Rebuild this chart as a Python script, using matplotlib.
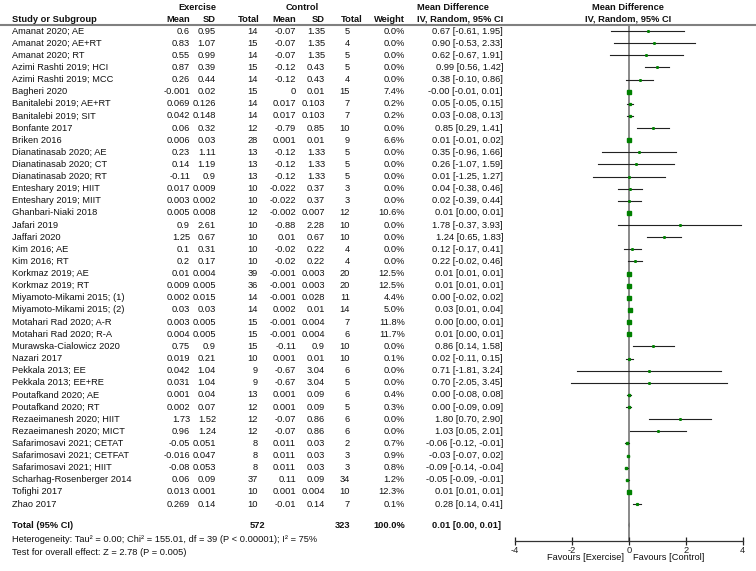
import matplotlib
matplotlib.use("Agg")
import matplotlib.pyplot as plt

plt.rcParams['font.family'] = ['Liberation Sans', 'DejaVu Sans']
FS = 6.7

studies = ["Amanat 2020; AE", "Amanat 2020; AE+RT", "Amanat 2020; RT",
           "Azimi Rashti 2019; HCI", "Azimi Rashti 2019; MCC", "Bagheri 2020",
           "Banitalebi 2019; AE+RT", "Banitalebi 2019; SIT", "Bonfante 2017",
           "Briken 2016", "Dianatinasab 2020; AE", "Dianatinasab 2020; CT",
           "Dianatinasab 2020; RT", "Enteshary 2019; HIIT", "Enteshary 2019; MIIT",
           "Ghanbari-Niaki 2018", "Jafari 2019", "Jaffari 2020", "Kim 2016; AE",
           "Kim 2016; RT", "Korkmaz 2019; AE", "Korkmaz 2019; RT",
           "Miyamoto-Mikami 2015; (1)", "Miyamoto-Mikami 2015; (2)",
           "Motahari Rad 2020; A-R", "Motahari Rad 2020; R-A",
           "Murawska-Cialowicz 2020", "Nazari 2017", "Pekkala 2013; EE",
           "Pekkala 2013; EE+RE", "Poutafkand 2020; AE", "Poutafkand 2020; RT",
           "Rezaeimanesh 2020; HIIT", "Rezaeimanesh 2020; MICT",
           "Safarimosavi 2021; CETAT", "Safarimosavi 2021; CETFAT",
           "Safarimosavi 2021; HIIT", "Scharhag-Rosenberger 2014",
           "Tofighi 2017", "Zhao 2017"]

ex_mean = [0.6, 0.83, 0.55, 0.87, 0.26, -0.001, 0.069, 0.042, 0.06, 0.006,
           0.23, 0.14, -0.11, 0.017, 0.003, 0.005, 0.9, 1.25, 0.1, 0.2,
           0.01, 0.009, 0.002, 0.03, 0.003, 0.004, 0.75, 0.019, 0.042, 0.031,
           0.001, 0.002, 1.73, 0.96, -0.05, -0.016, -0.08, 0.06, 0.013, 0.269]
ex_sd = [0.95, 1.07, 0.99, 0.39, 0.44, 0.02, 0.126, 0.148, 0.32, 0.03,
         1.11, 1.19, 0.9, 0.009, 0.002, 0.008, 2.61, 0.67, 0.31, 0.17,
         0.004, 0.005, 0.015, 0.03, 0.005, 0.005, 0.9, 0.21, 1.04, 1.04,
         0.04, 0.07, 1.52, 1.24, 0.051, 0.047, 0.053, 0.09, 0.001, 0.14]
ex_n = [14, 15, 14, 15, 14, 15, 14, 14, 12, 28, 13, 13, 13, 10, 10, 12, 10, 10,
        10, 10, 39, 36, 14, 14, 15, 15, 15, 10, 9, 9, 13, 12, 12, 12, 8, 8, 8,
        37, 10, 10]
ct_mean = [-0.07, -0.07, -0.07, -0.12, -0.12, 0, 0.017, 0.017, -0.79, 0.001,
           -0.12, -0.12, -0.12, -0.022, -0.022, -0.002, -0.88, 0.01, -0.02, -0.02,
           -0.001, -0.001, -0.001, 0.002, -0.001, -0.001, -0.11, 0.001, -0.67, -0.67,
           0.001, 0.001, -0.07, -0.07, 0.011, 0.011, 0.011, 0.11, 0.001, -0.01]
ct_sd = [1.35, 1.35, 1.35, 0.43, 0.43, 0.01, 0.103, 0.103, 0.85, 0.01,
         1.33, 1.33, 1.33, 0.37, 0.37, 0.007, 2.28, 0.67, 0.22, 0.22,
         0.003, 0.003, 0.028, 0.01, 0.004, 0.004, 0.9, 0.01, 3.04, 3.04,
         0.09, 0.09, 0.86, 0.86, 0.03, 0.03, 0.03, 0.09, 0.004, 0.14]
ct_n = [5, 4, 5, 5, 4, 15, 7, 7, 10, 9, 5, 5, 5, 3, 3, 12, 10, 10, 4, 4, 20, 20,
        11, 14, 7, 6, 10, 10, 6, 5, 6, 5, 6, 6, 2, 3, 3, 34, 10, 7]
weight = [0.0, 0.0, 0.0, 0.0, 0.0, 7.4, 0.2, 0.2, 0.0, 6.6, 0.0, 0.0, 0.0, 0.0,
          0.0, 10.6, 0.0, 0.0, 0.0, 0.0, 12.5, 12.5, 4.4, 5.0, 11.8, 11.7, 0.0,
          0.1, 0.0, 0.0, 0.4, 0.3, 0.0, 0.0, 0.7, 0.9, 0.8, 1.2, 12.3, 0.1]
md = [0.67, 0.90, 0.62, 0.99, 0.38, -0.0, 0.05, 0.03, 0.85, 0.01, 0.35, 0.26,
      0.01, 0.04, 0.02, 0.01, 1.78, 1.24, 0.12, 0.22, 0.01, 0.01, 0.00, 0.03,
      0.00, 0.01, 0.86, 0.02, 0.71, 0.70, 0.00, 0.00, 1.80, 1.03, -0.06, -0.03,
      -0.09, -0.05, 0.01, 0.28]
ci_lo = [-0.61, -0.53, -0.67, 0.56, -0.10, -0.01, -0.05, -0.08, 0.29, -0.01,
         -0.96, -1.07, -1.25, -0.38, -0.39, 0.00, -0.37, 0.65, -0.17, -0.02,
         0.01, 0.01, -0.02, 0.01, 0.00, 0.00, 0.14, -0.11, -1.81, -2.05,
         -0.08, -0.09, 0.70, 0.05, -0.12, -0.07, -0.14, -0.09, 0.01, 0.14]
ci_hi = [1.95, 2.33, 1.91, 1.42, 0.86, 0.01, 0.15, 0.13, 1.41, 0.02,
         1.66, 1.59, 1.27, 0.46, 0.44, 0.01, 3.93, 1.83, 0.41, 0.46,
         0.01, 0.01, 0.02, 0.04, 0.01, 0.01, 1.58, 0.15, 3.24, 3.45,
         0.08, 0.09, 2.90, 2.01, -0.01, 0.02, -0.04, -0.01, 0.01, 0.41]

total_ex_n, total_ct_n = 572, 323
total_weight = 100.0
total_md, total_lo, total_hi = 0.01, 0.00, 0.01
heterogeneity = "Heterogeneity: Tau\u00b2 = 0.00; Chi\u00b2 = 155.01, df = 39 (P < 0.00001); I\u00b2 = 75%"
overall = "Test for overall effect: Z = 2.78 (P = 0.005)"
ticks = [-4, -2, 0, 2, 4]

W, H = 756, 571
ROW0, STEP = 31, 12.13
AXIS_Y, TOP_Y = 540.7, 25
X_LEFT, X_RIGHT = 515, 742.7

fig = plt.figure(figsize=(W / 100, H / 100), dpi=100)
tab = fig.add_axes([0, 0, 1, 1])
tab.set_xlim(0, W)
tab.set_ylim(H, 0)
tab.axis('off')


def put(x, y, s, ha='right', bold=False):
    tab.text(x, y, s, ha=ha, va='center', fontsize=FS,
             fontweight='bold' if bold else 'normal', color='#111111')


# header
put(197, 7, "Exercise", ha='center', bold=True)
put(302, 7, "Control", ha='center', bold=True)
put(453, 7, "Mean Difference", ha='center', bold=True)
put(628, 7, "Mean Difference", ha='center', bold=True)
put(12, 19, "Study or Subgroup", ha='left', bold=True)
put(190, 19, "Mean", bold=True)
put(216, 19, "SD", bold=True)
put(260, 19, "Total", bold=True)
put(296, 19, "Mean", bold=True)
put(325, 19, "SD", bold=True)
put(363, 19, "Total", bold=True)
put(405, 19, "Weight", bold=True)
put(503, 19, "IV, Random, 95% CI", bold=True)
put(628, 19, "IV, Random, 95% CI", ha='center', bold=True)
tab.axhline(TOP_Y, color='#808080', lw=1.5)

# study rows
for i, name in enumerate(studies):
    y = ROW0 + i * STEP
    put(12, y, name, ha='left')
    put(190, y, "%g" % ex_mean[i])
    put(216, y, "%g" % ex_sd[i])
    put(258, y, "%d" % ex_n[i])
    put(296, y, "%g" % ct_mean[i])
    put(325, y, "%g" % ct_sd[i])
    put(350, y, "%d" % ct_n[i])
    put(405, y, "%.1f%%" % weight[i])
    put(503, y, "%.2f [%.2f, %.2f]" % (md[i], ci_lo[i], ci_hi[i]))

total_y = ROW0 + 39 * STEP + 21
put(12, total_y, "Total (95% CI)", ha='left', bold=True)
put(265, total_y, "%d" % total_ex_n, bold=True)
put(350, total_y, "%d" % total_ct_n, bold=True)
put(405, total_y, "%.1f%%" % total_weight, bold=True)
put(501, total_y, "%.2f [%.2f, %.2f]" % (total_md, total_lo, total_hi), bold=True)
put(12, total_y + 14.5, heterogeneity, ha='left')
put(12, total_y + 27, overall, ha='left')
put(624, 558, "Favours [Exercise]")
put(633, 558, "Favours [Control]", ha='left')

# forest plot
fa = fig.add_axes([X_LEFT / W, 1 - AXIS_Y / H, (X_RIGHT - X_LEFT) / W, (AXIS_Y - TOP_Y) / H])
fa.set_xlim(-4, 4)
fa.set_ylim(AXIS_Y, TOP_Y)
fa.patch.set_visible(False)
for s in ['top', 'left', 'right']:
    fa.spines[s].set_visible(False)
fa.spines['bottom'].set_color('#333333')
fa.spines['bottom'].set_linewidth(0.9)
fa.set_yticks([])
fa.set_xticks(ticks)
fa.set_xticklabels([str(t) for t in ticks])
fa.tick_params(axis='x', direction='inout', length=6, width=0.9, pad=0.5,
               labelsize=FS, colors='#222222')
fa.axvline(0, color='#808080', lw=1.3, zorder=1)

for i in range(len(studies)):
    y = ROW0 + i * STEP
    fa.plot([ci_lo[i], ci_hi[i]], [y, y], color='#222222', lw=0.8, zorder=2)
    fa.plot(md[i], y, 's', color='#008000', mec='#008000',
            ms=1.1 + 0.55 * weight[i] ** 0.5, zorder=3)

fa.fill([total_lo, total_md, total_hi, total_md],
        [total_y, total_y - 3, total_y, total_y + 3], color='black', lw=0, zorder=3)

fig.savefig("out.png", dpi=100)
